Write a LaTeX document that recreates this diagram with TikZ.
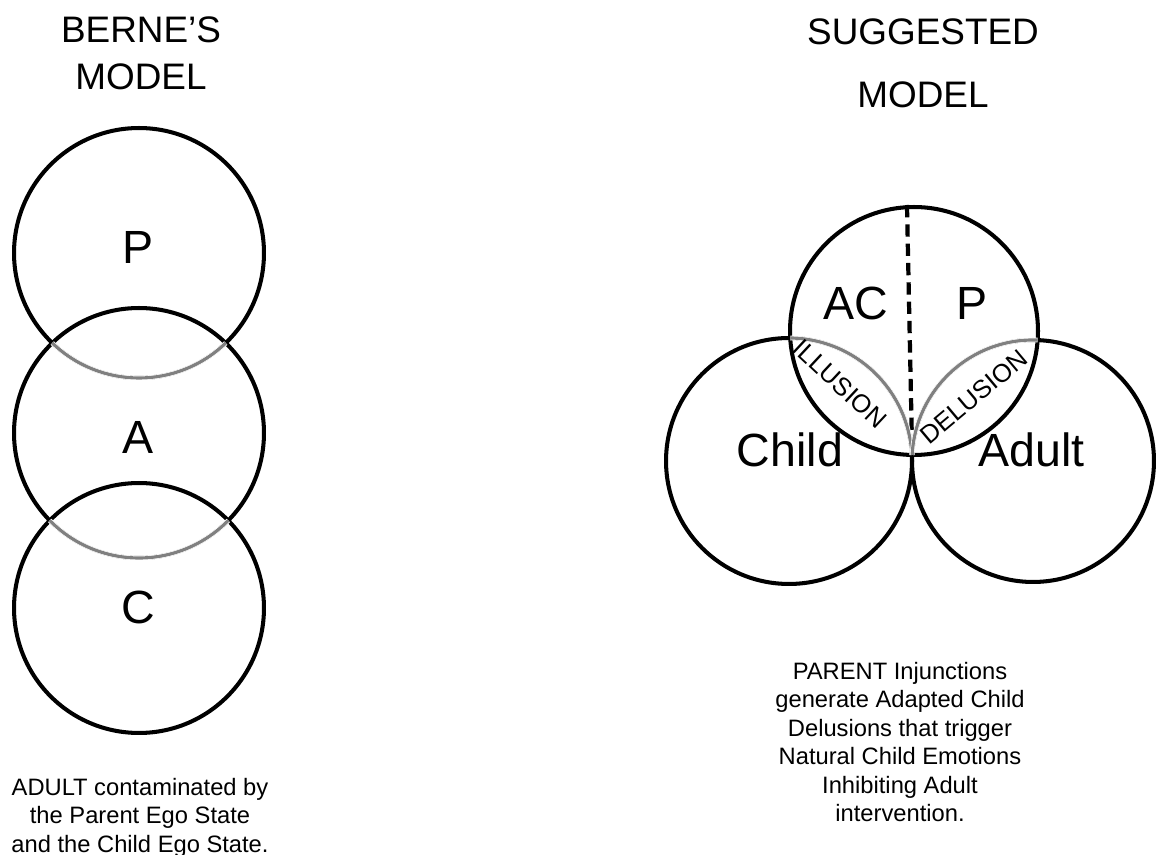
\documentclass[tikz,border=0pt]{standalone}
\usepackage{fontspec}
\setmainfont{Liberation Sans}

\begin{document}
\begin{tikzpicture}[x=0.02cm,y=0.02cm,
    ego/.style={circle,draw,line width=2.3pt,inner sep=0pt},
    lbl/.style={font=\fontsize{26.5}{30}\selectfont},
    tag/.style={font=\fontsize{14.5}{17}\selectfont},
    ttl/.style={align=center,font=\fontsize{21}{26.7}\selectfont},
    note/.style={align=center,font=\fontsize{13.5}{16.2}\selectfont},
    over/.style={draw=black!50,line width=1.8pt,preaction={draw=white,line width=2.7pt}}]

    \useasboundingbox (0,0) rectangle (1156,855);

    % 左边: Berne 的模型
    \node[ego,minimum size=5cm] (Pc) at (139,602) {};
    \node[ego,minimum size=5cm] (Ac) at (139,422) {};
    \node[ego,minimum size=5cm] (Cc) at (139,247) {};
    \node[lbl] (Pl) at (138,607.5) {P};
    \node[lbl] (Al) at (138,418) {A};
    \node[lbl] (Cl) at (138,247.5) {C};

    % 重叠部分的灰色弧
    \draw[over] (Pc.center) ++(226.05:125) arc[start angle=226.05,end angle=313.95,radius=125];
    \draw[over] (Ac.center) ++(224.43:125) arc[start angle=224.43,end angle=315.57,radius=125];

    \node[ttl] (ttlL) at (141,801.5) {BERNE’S\\MODEL};
    \node[note] (noteL) at (140,37.5) {ADULT contaminated by\\the Parent Ego State\\and the Child Ego State.};

    % 右边: 建议的模型
    \node[ego,minimum size=4.96cm] (Top) at (914,524) {};
    \node[ego,minimum size=4.92cm] (Child) at (789,394) {};
    \node[ego,minimum size=4.84cm] (Adult) at (1033,394) {};
    \node[lbl] (ACl) at (855.5,551.5) {AC};
    \node[lbl] (Pr) at (972,551.5) {P};
    \node[lbl] (Chl) at (790,405) {Child};
    \node[lbl] (Adl) at (1031.5,405) {Adult};

    % 虚线分隔 AC 与 P
    \draw[line width=2.4pt,dash pattern=on 7pt off 4pt] ([xshift=-4pt]Top.north) -- ([xshift=-1pt]Top.south);

    \draw[over] (Child.center) ++(2.8:123) arc[start angle=2.8,end angle=89.4,radius=123];
    \draw[over] (Adult.center) ++(87.8:121) arc[start angle=87.8,end angle=177.14,radius=121];
    \node[tag,rotate=-43] (Ill) at (840,471) {ILLUSION};
    \node[tag,rotate=40] (Del) at (974,458) {DELUSION};

    \node[ttl,font=\fontsize{21}{36}\selectfont] (ttlR) at (923,791.5) {SUGGESTED\\MODEL};
    \node[note] (noteR) at (900,113) {PARENT Injunctions\\generate Adapted Child\\Delusions that trigger\\Natural Child Emotions\\Inhibiting Adult\\intervention.};

\end{tikzpicture}
\end{document}
